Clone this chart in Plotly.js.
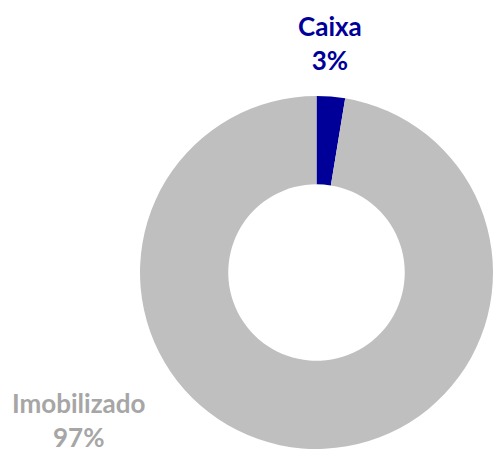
<!DOCTYPE html>
<html>
<head>
<meta charset="utf-8">
<script src="https://cdn.plot.ly/plotly-3.0.1.min.js"></script>
<style>html,body{margin:0;padding:0;background:#fff;}#chart{width:495px;height:453px;}</style>
</head>
<body>
<div id="chart"></div>
<script>
const labels = ["Caixa", "Imobilizado"];
const values = [2.6, 97.4];
const colors = ["#000099", "#BFBFBF"];
const textColors = ["#000099", "#A6A6A6"];

const total = values.reduce((a, b) => a + b, 0);
const labelText = labels.map((l, i) => l + "<br>" + Math.round(values[i] / total * 100) + "%");

const trace = {
  type: "pie",
  labels: labels,
  values: values,
  hole: 0.5,
  sort: false,
  direction: "clockwise",
  rotation: 0,
  textinfo: "none",
  hoverinfo: "label+percent",
  marker: { colors: colors, line: { width: 0 } },
  domain: { x: [140 / 495, 493 / 495], y: [1 - 449 / 453, 1 - 96 / 453] },
  showlegend: false
};

const annPos = [
  { x: 330 / 495, y: 1 - 8 / 453 },
  { x: 79 / 495, y: 1 - 385 / 453 }
];

const layout = {
  width: 495,
  height: 453,
  margin: { l: 0, r: 0, t: 0, b: 0 },
  paper_bgcolor: "#ffffff",
  plot_bgcolor: "#ffffff",
  font: { family: "Lato, 'Open Sans', sans-serif" },
  annotations: labels.map((l, i) => ({
    text: "<b>" + labelText[i] + "</b>",
    x: annPos[i].x,
    y: annPos[i].y,
    xref: "paper",
    yref: "paper",
    xanchor: "center",
    yanchor: "top",
    showarrow: false,
    align: "center",
    font: { size: 26, color: textColors[i], family: "Lato, 'Open Sans', sans-serif" }
  }))
};

Plotly.newPlot("chart", [trace], layout, { displayModeBar: false, staticPlot: true });
</script>
</body>
</html>
